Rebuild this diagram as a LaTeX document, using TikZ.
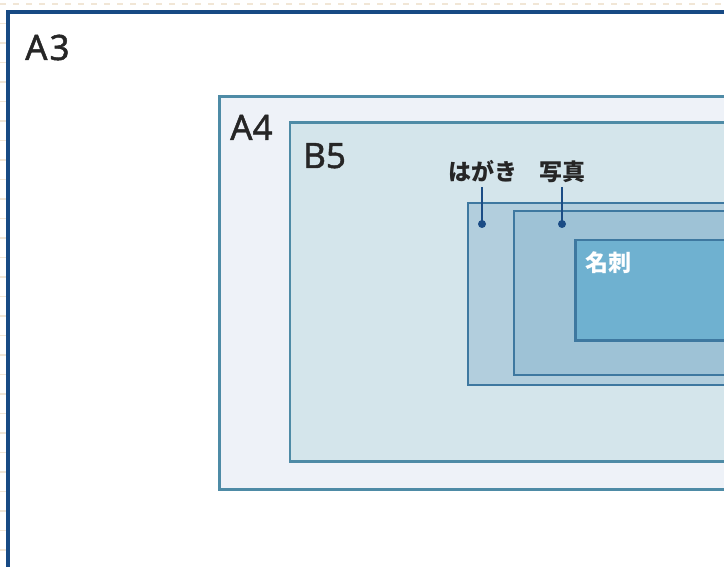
\documentclass[tikz,border=0pt]{standalone}
\usepackage{fontspec}
\setmainfont{Noto Sans CJK JP}
\newfontfamily\latinlbl{Noto Sans}[FakeBold=1.3]
\begin{document}
\begin{tikzpicture}[x={(1pt,0)},y={(0,-1pt)},
  gridline/.style={draw=gridbeige,line width=1.6pt,dash pattern=on 6pt off 7pt,dash phase=0pt},
  papera/.style={draw=boxline,line width=2.6pt},
  paperb/.style={draw=innerline,line width=2.4pt},
  sizelabel/.style={inner sep=0pt,anchor=base west,text=textdark,font=\latinlbl\fontsize{35}{35}\selectfont},
  jplabel/.style={inner sep=0pt,anchor=center,text=textdark,font=\fontsize{23}{23}\selectfont\bfseries},
  leader/.style={draw=leaderblue,line width=1.3pt},
  leaderdot/.style={circle,fill=leaderblue,inner sep=0pt,minimum size=8pt}]
\definecolor{gridbeige}{HTML}{F1E6D6}
\definecolor{a3line}{HTML}{174A84}
\definecolor{a4fill}{HTML}{EEF2F8}
\definecolor{b5fill}{HTML}{D4E5EB}
\definecolor{hagakifill}{HTML}{B2CEDD}
\definecolor{shashinfill}{HTML}{9EC2D6}
\definecolor{meishifill}{HTML}{6FB1D0}
\definecolor{boxline}{HTML}{4E8BA6}
\definecolor{innerline}{HTML}{3E78A0}
\definecolor{textdark}{HTML}{262626}
\definecolor{leaderblue}{HTML}{1B4C85}
\useasboundingbox (0,0) rectangle (724,567);
\clip (0,0) rectangle (724,567);
\fill[white] (0,0) rectangle (724,567);
% background grid paper
\foreach \yy in {4,23.5,...,567} {
  \draw[gridline] (0,\yy) -- (724,\yy);
}
% A3
\draw[fill=white,draw=a3line,line width=4pt] (8,12) rectangle (760,620);
% A4
\draw[papera,fill=a4fill] (219.5,96.5) rectangle (760,489.5);
% B5
\draw[papera,fill=b5fill] (290,122.5) rectangle (760,461.5);
% hagaki
\draw[paperb,fill=hagakifill] (468,203) rectangle (760,385);
% shashin
\draw[paperb,fill=shashinfill] (514,211) rectangle (760,375);
% meishi
\draw[paperb,fill=meishifill] (575.5,240) rectangle (760,340.5);
% labels
\node[sizelabel] (a3) at (25,60) {A\kern2pt3};
\node[sizelabel] (a4) at (230,140) {A4};
\node[sizelabel] (b5) at (303,168) {B5};
\node[jplabel] (hagaki) at (483,171) {はがき};
\node[jplabel] (shashin) at (562,171.5) {写真};
\node[jplabel,text=white] (meishi) at (608.5,262.5) {名刺};
% leaders
\node[leaderdot] (hdot) at (482,224) {};
\node[leaderdot] (sdot) at (562,224) {};
\coordinate (hstart) at (482,187);
\coordinate (sstart) at (562,187);
\draw[leader] (hstart) -- (hdot.center);
\draw[leader] (sstart) -- (sdot.center);
\end{tikzpicture}
\end{document}
